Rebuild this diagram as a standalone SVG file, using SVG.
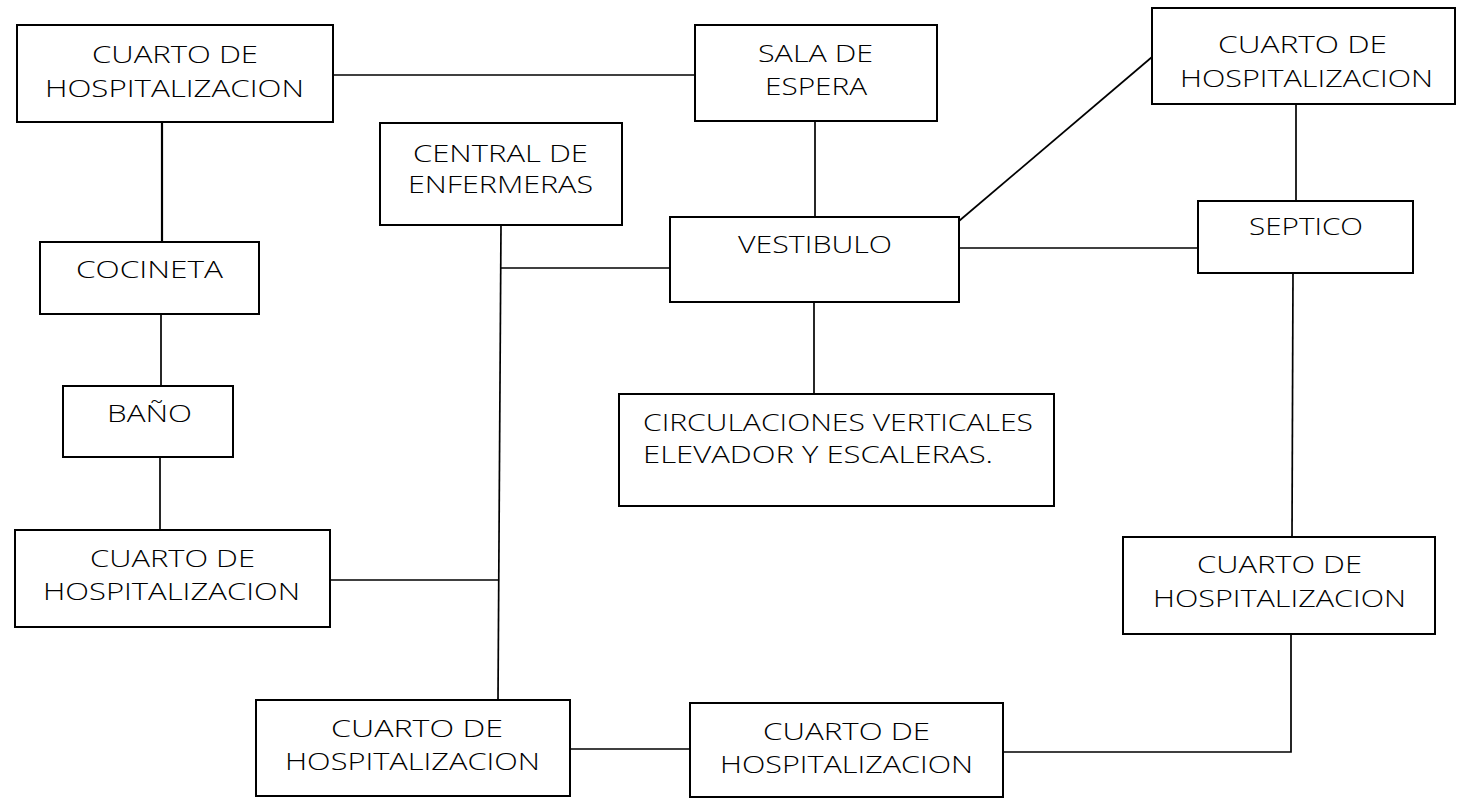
<svg xmlns="http://www.w3.org/2000/svg" width="1458" height="798" viewBox="0 0 1458 798">
<style>
.box{fill:#fff;stroke:#000;stroke-width:2}
.t{font-family:"Open Sans","Liberation Sans",sans-serif;font-weight:300;font-size:24px;fill:#000}
.c{stroke:#000;stroke-width:1.7;fill:none}
</style>
<rect width="1458" height="798" fill="#fff"/>
<g id="connectors">
<line class="c" x1="333" y1="75" x2="695" y2="75"/>
<line class="c" x1="162" y1="122" x2="162" y2="242" style="stroke-width:2.2"/>
<line class="c" x1="161" y1="314" x2="161" y2="386"/>
<line class="c" x1="160" y1="457" x2="160" y2="530"/>
<line class="c" x1="330" y1="580" x2="499" y2="580"/>
<line class="c" x1="501" y1="225" x2="498" y2="700"/>
<line class="c" x1="500" y1="268" x2="670" y2="268"/>
<line class="c" x1="815" y1="121" x2="815" y2="217"/>
<line class="c" x1="814" y1="302" x2="814" y2="394"/>
<line class="c" x1="959" y1="221" x2="1152" y2="57"/>
<line class="c" x1="959" y1="248" x2="1198" y2="248"/>
<line class="c" x1="1296" y1="104" x2="1296" y2="201"/>
<line class="c" x1="1293" y1="273" x2="1292" y2="537"/>
<polyline class="c" points="1291,634 1291,752 1003,752"/>
<line class="c" x1="570" y1="749" x2="690" y2="749"/>
</g>
<g id="cuarto1">
<rect class="box" x="17" y="25" width="316" height="97"/>
<text class="t" x="92" y="63" textLength="166" lengthAdjust="spacingAndGlyphs">CUARTO DE</text>
<text class="t" x="45" y="97" textLength="259" lengthAdjust="spacingAndGlyphs">HOSPITALIZACION</text>
</g>
<g id="sala">
<rect class="box" x="695" y="25" width="242" height="96"/>
<text class="t" x="758" y="62" textLength="115" lengthAdjust="spacingAndGlyphs">SALA DE</text>
<text class="t" x="765" y="95" textLength="102" lengthAdjust="spacingAndGlyphs">ESPERA</text>
</g>
<g id="cuarto-tr">
<rect class="box" x="1152" y="8" width="303" height="96"/>
<text class="t" x="1218" y="53" textLength="169" lengthAdjust="spacingAndGlyphs">CUARTO DE</text>
<text class="t" x="1180" y="87" textLength="253" lengthAdjust="spacingAndGlyphs">HOSPITALIZACION</text>
</g>
<g id="central">
<rect class="box" x="380" y="123" width="242" height="102"/>
<text class="t" x="413" y="162" textLength="175" lengthAdjust="spacingAndGlyphs">CENTRAL DE</text>
<text class="t" x="408" y="193" textLength="185" lengthAdjust="spacingAndGlyphs">ENFERMERAS</text>
</g>
<g id="vestibulo">
<rect class="box" x="670" y="217" width="289" height="85"/>
<text class="t" x="738" y="253" textLength="154" lengthAdjust="spacingAndGlyphs">VESTIBULO</text>
</g>
<g id="septico">
<rect class="box" x="1198" y="201" width="215" height="72"/>
<text class="t" x="1249" y="235" textLength="114" lengthAdjust="spacingAndGlyphs">SEPTICO</text>
</g>
<g id="cocineta">
<rect class="box" x="40" y="242" width="219" height="72"/>
<text class="t" x="76" y="278" textLength="147" lengthAdjust="spacingAndGlyphs">COCINETA</text>
</g>
<g id="bano">
<rect class="box" x="63" y="386" width="170" height="71"/>
<text class="t" x="107" y="422" textLength="85" lengthAdjust="spacingAndGlyphs">BAÑO</text>
</g>
<g id="circulaciones">
<rect class="box" x="619" y="394" width="435" height="112"/>
<text class="t" x="643" y="431" textLength="390" lengthAdjust="spacingAndGlyphs">CIRCULACIONES VERTICALES</text>
<text class="t" x="643" y="463" textLength="350" lengthAdjust="spacingAndGlyphs">ELEVADOR Y ESCALERAS.</text>
</g>
<g id="cuarto2">
<rect class="box" x="15" y="530" width="315" height="97"/>
<text class="t" x="90" y="567" textLength="165" lengthAdjust="spacingAndGlyphs">CUARTO DE</text>
<text class="t" x="43" y="600" textLength="257" lengthAdjust="spacingAndGlyphs">HOSPITALIZACION</text>
</g>
<g id="cuarto-r">
<rect class="box" x="1123" y="537" width="312" height="97"/>
<text class="t" x="1197" y="573" textLength="165" lengthAdjust="spacingAndGlyphs">CUARTO DE</text>
<text class="t" x="1153" y="607" textLength="253" lengthAdjust="spacingAndGlyphs">HOSPITALIZACION</text>
</g>
<g id="cuarto3">
<rect class="box" x="256" y="700" width="314" height="96"/>
<text class="t" x="331" y="737" textLength="172" lengthAdjust="spacingAndGlyphs">CUARTO DE</text>
<text class="t" x="285" y="770" textLength="255" lengthAdjust="spacingAndGlyphs">HOSPITALIZACION</text>
</g>
<g id="cuarto4">
<rect class="box" x="690" y="703" width="313" height="94"/>
<text class="t" x="763" y="740" textLength="167" lengthAdjust="spacingAndGlyphs">CUARTO DE</text>
<text class="t" x="720" y="773" textLength="253" lengthAdjust="spacingAndGlyphs">HOSPITALIZACION</text>
</g>
</svg>
